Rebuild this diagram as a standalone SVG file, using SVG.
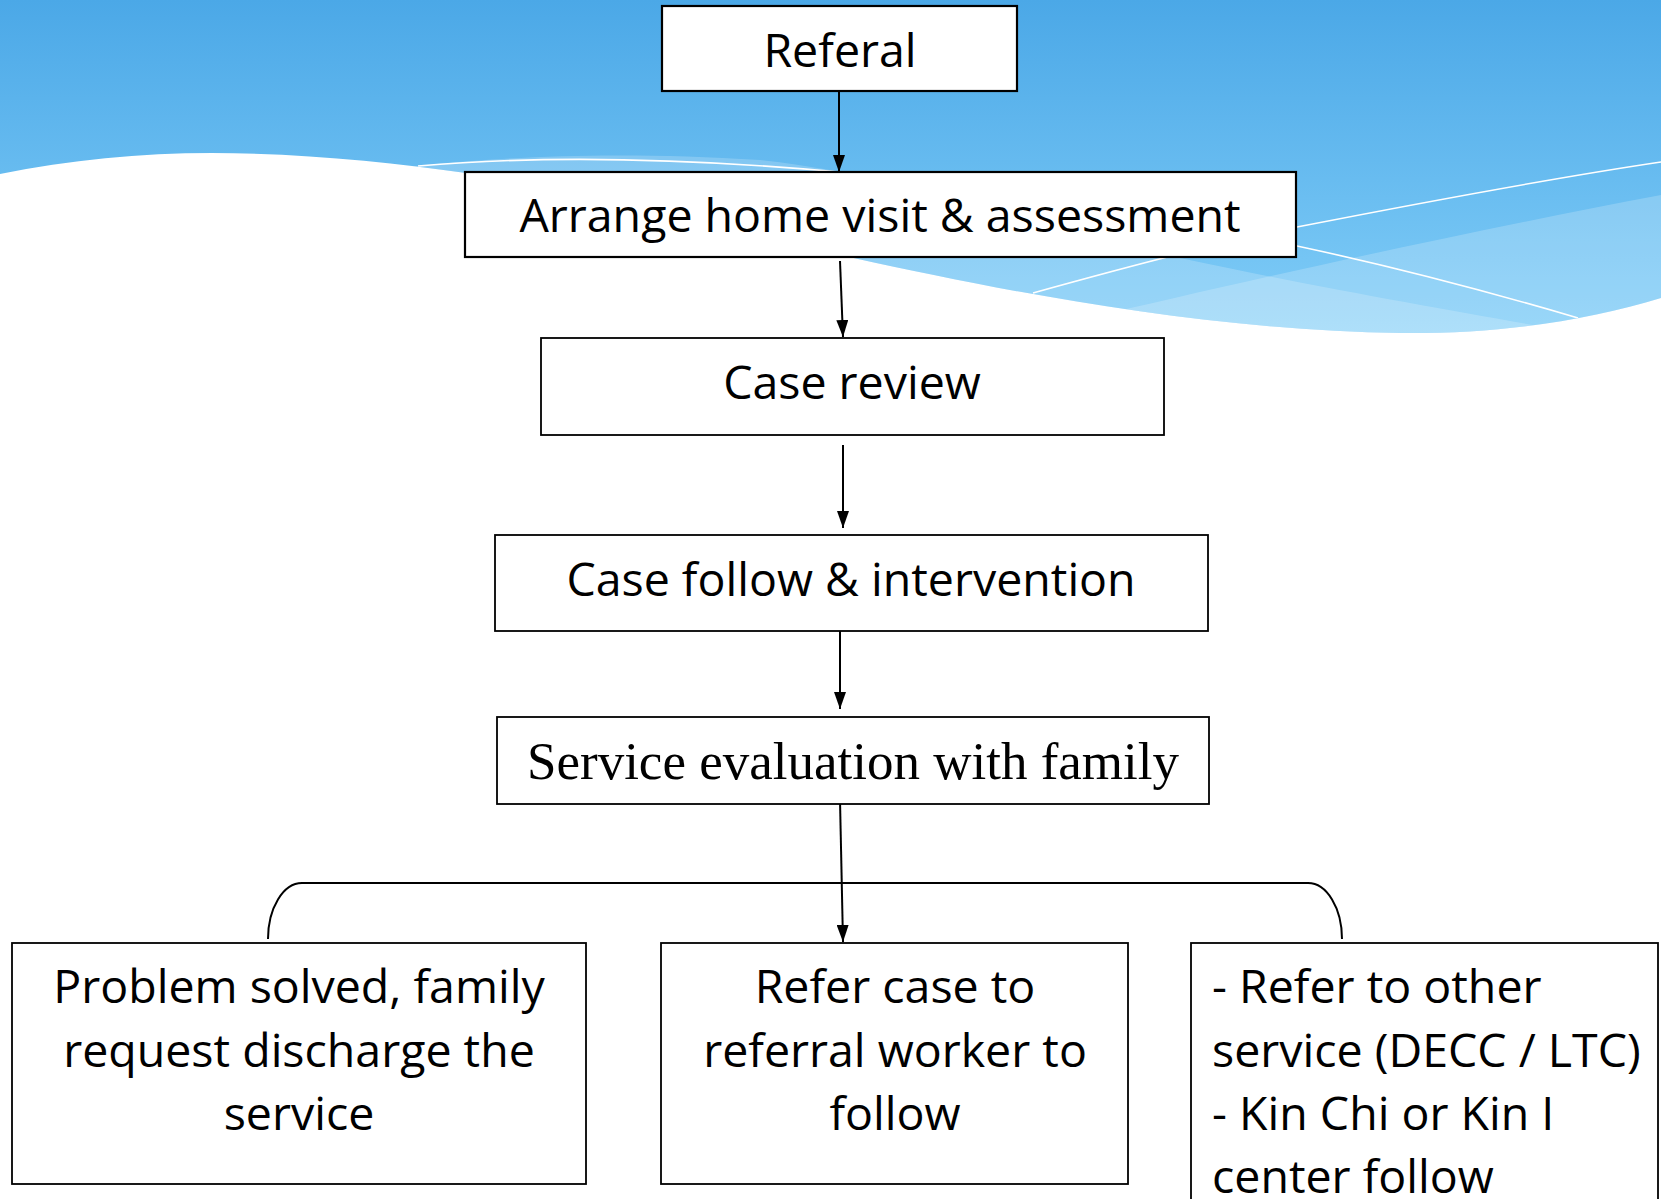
<svg xmlns="http://www.w3.org/2000/svg" width="1661" height="1199" viewBox="0 0 1661 1199">
<defs>
<linearGradient id="sky" x1="0" y1="0" x2="0" y2="340" gradientUnits="userSpaceOnUse">
<stop offset="0" stop-color="#4BA8E7"/>
<stop offset="1" stop-color="#82CEF8"/>
</linearGradient>
<clipPath id="wave">
<path d="M0,0 H1661 V298 C1590,320 1500,334 1400,333 C1200,330 1000,290 858,259 C740,232 600,195 466,173 C390,162 300,153 212,153 C140,153 70,160 0,174 Z"/>
</clipPath>
<marker id="arr" markerWidth="17" markerHeight="12" refX="17" refY="6" orient="auto" markerUnits="userSpaceOnUse" viewBox="0 0 17 12">
<path d="M0,0 L17,6 L0,12 Z" fill="#000"/>
</marker>
</defs>
<style>
.box{fill:#fff;stroke:#000;stroke-width:2.2}
.box2{fill:#fff;stroke:#000;stroke-width:1.8}
.t{font-family:"Open Sans","Noto Sans",sans-serif;font-size:46.5px;fill:#000}
.s{font-family:"Liberation Serif","Times New Roman",serif;font-size:53px;fill:#000}
.c{text-anchor:middle}
.con{fill:none;stroke:#000;stroke-width:2}
.wl{fill:none;stroke:#fff;stroke-width:1.6}
</style>
<rect width="1661" height="1199" fill="#fff"/>
<g id="background" clip-path="url(#wave)">
<rect x="0" y="0" width="1661" height="360" fill="url(#sky)"/>
<path d="M380,170 C480,158 600,150 760,160 C900,175 1050,225 1180,258 C1330,290 1450,310 1560,330 L1560,400 L380,400 Z" fill="#fff" fill-opacity="0.2"/>
<path d="M1080,320 C1250,280 1450,235 1661,195 L1661,400 L1080,400 Z" fill="#fff" fill-opacity="0.2"/>
<path class="wl" d="M418,166 C520,157 650,155 840,172 C1000,190 1150,215 1297,246 C1400,268 1500,295 1578,318"/>
<path class="wl" d="M1033,293 C1130,266 1230,240 1297,227 C1420,203 1540,180 1661,162"/>
</g>
<g id="connectors">
<line class="con" x1="839" y1="91" x2="839" y2="172" marker-end="url(#arr)"/>
<line class="con" x1="840" y1="261" x2="843" y2="337" marker-end="url(#arr)"/>
<line class="con" x1="843" y1="445" x2="843" y2="528" marker-end="url(#arr)"/>
<line class="con" x1="840" y1="628" x2="840" y2="709" marker-end="url(#arr)"/>
<line class="con" x1="840" y1="800" x2="843" y2="942" marker-end="url(#arr)"/>
<path class="con" d="M268,939 A34,56 0 0 1 302,883 H1308 A34,56 0 0 1 1342,939"/>
</g>
<g id="referal">
<rect class="box" x="662" y="6" width="355" height="85"/>
<text class="t c" x="840" y="67">Referal</text>
</g>
<g id="arrange">
<rect class="box" x="465" y="172" width="831" height="85"/>
<text class="t c" x="880" y="232">Arrange home visit &amp; assessment</text>
</g>
<g id="case-review">
<rect class="box2" x="541" y="338" width="623" height="97"/>
<text class="t c" x="852" y="399">Case review</text>
</g>
<g id="case-follow">
<rect class="box2" x="495" y="535" width="713" height="96"/>
<text class="t c" x="851" y="596">Case follow &amp; intervention</text>
</g>
<g id="service-eval">
<rect class="box2" x="497" y="717" width="712" height="87"/>
<text class="s c" x="853" y="779">Service evaluation with family</text>
</g>
<g id="problem-solved">
<rect class="box2" x="12" y="943" width="574" height="241"/>
<text class="t c" x="299" y="1003">Problem solved, family</text>
<text class="t c" x="299" y="1066.5">request discharge the</text>
<text class="t c" x="299" y="1130">service</text>
</g>
<g id="refer-case">
<rect class="box2" x="661" y="943" width="467" height="241"/>
<text class="t c" x="895" y="1003">Refer case to</text>
<text class="t c" x="895" y="1066.5">referral worker to</text>
<text class="t c" x="895" y="1130">follow</text>
</g>
<g id="refer-other">
<rect class="box2" x="1191" y="943" width="467" height="270"/>
<text class="t" x="1212" y="1003">- Refer to other</text>
<text class="t" x="1212" y="1066.5">service (DECC / LTC)</text>
<text class="t" x="1212" y="1130">- Kin Chi or Kin I</text>
<text class="t" x="1212" y="1193">center follow</text>
</g>
</svg>
